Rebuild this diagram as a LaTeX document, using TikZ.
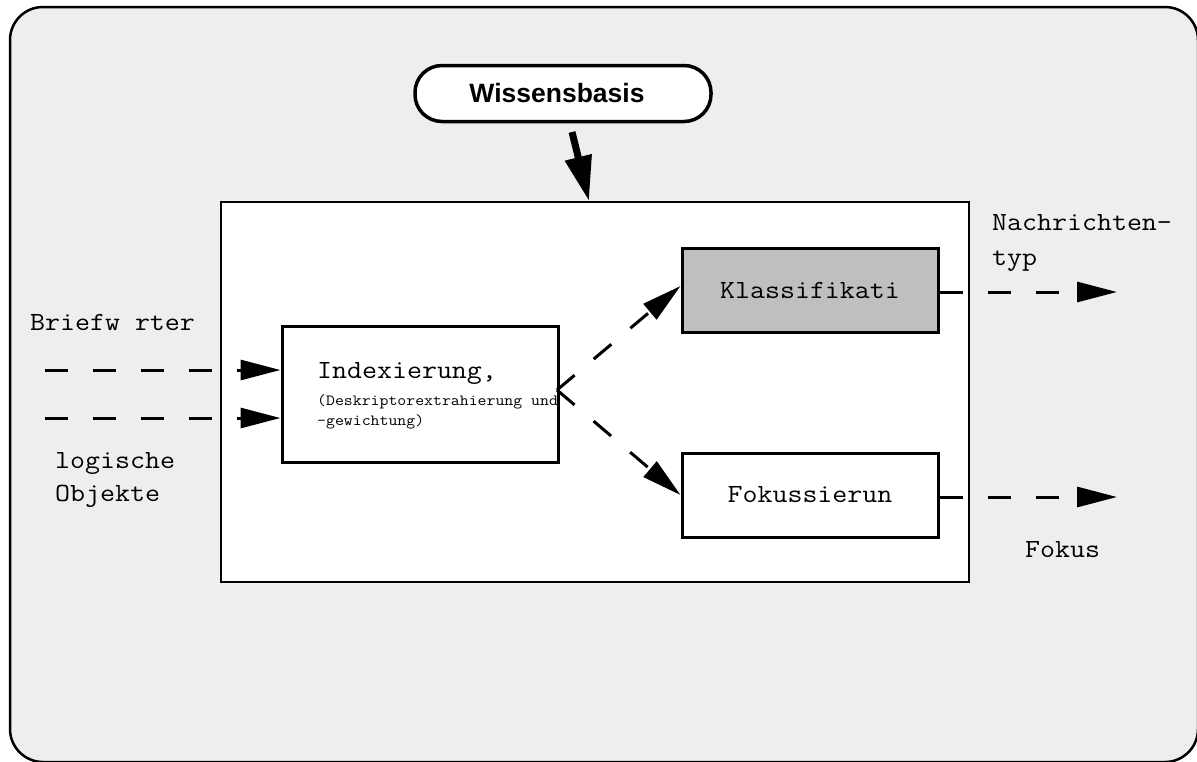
\documentclass[tikz,border=0pt]{standalone}
\usepackage{fontspec}
\newfontfamily\courfont[FakeStretch=1.11]{Latin Modern Mono}
\newfontfamily\wbfont{Liberation Sans}
\usetikzlibrary{arrows.meta}
\definecolor{bgc}{HTML}{EEEEEE}
\definecolor{klc}{HTML}{BFBFBF}
\newcommand{\bigmono}{\courfont\fontsize{26.2}{30}\selectfont}
\newcommand{\smallmono}{\courfont\fontsize{15.6}{20}\selectfont}
\tikzset{
  procbox/.style={draw, line width=3, inner sep=0, minimum width=256, minimum height=84, font=\bigmono},
  lbl/.style={anchor=base west, inner sep=0, font=\bigmono},
  flow/.style={line width=3, dash pattern=on 23pt off 25pt, -{Triangle[length=40pt,width=20pt]}},
}
\begin{document}
\begin{tikzpicture}[x=1pt,y=-1pt]
\useasboundingbox (0,0) rectangle (1197,761);
\draw[line width=2.5, fill=bgc, rounded corners=33] (10,7) rectangle (1198,762);

\node[draw, fill=white, line width=2, inner sep=0, minimum width=748, minimum height=380, anchor=north west] (mainbox) at (220,201) {};

\node[draw, fill=white, line width=3.5, rounded corners=27, inner sep=0, minimum width=296, minimum height=56, font=\wbfont\bfseries\fontsize{26.5}{30}\selectfont] (wb) at (563,93.5) {\hspace*{-12pt}Wissensbasis};

\node[draw, fill=white, line width=3, inner sep=0, minimum width=276, minimum height=136] (idx) at (420,394) {};
\node[procbox, fill=klc] (kl) at (810,290) {Klassifikati};
\node[procbox, fill=white] (fok) at (810,495) {Fokussierun};

% texts
\node[lbl] (t1) at (317,378) {Indexierung,};
\node[anchor=base west, inner sep=0, font=\smallmono] (t2) at (317,405) {(Deskriptorextrahierung und};
\node[anchor=base west, inner sep=0, font=\smallmono] (t3) at (317,425) {-gewichtung)};
\node[lbl] (brief) at (30,330) {Briefw rter};
\node[lbl] (log) at (55,468) {logische};
\node[lbl] (obj) at (55,501) {Objekte};
\node[lbl] (nach) at (992,230) {Nachrichten-};
\node[lbl] (typ) at (992,265) {typ};
\node[lbl] (fokus) at (1025,557) {Fokus};

% knowledge base arrow
\coordinate (wbs) at (572,132);
\coordinate (wbt) at (589,201);
\draw[line width=7, -{Triangle[length=45pt,width=26pt]}] (wbs) -- (wbt);

% input arrows
\coordinate (in1) at (45,370);
\coordinate (in2) at (45,418);
\draw[flow] (in1) -- (in1 -| idx.west);
\draw[flow] (in2) -- (in2 -| idx.west);

% split arrows
\coordinate (split) at (557,390);
\draw[flow] (split) -- ([yshift=4pt]kl.west);
\draw[flow] (split) -- (fok.west);

% outputs
\coordinate (o1) at (1117,292);
\coordinate (o2) at (1117,497);
\draw[flow] (kl.east |- o1) -- (o1);
\draw[flow] (fok.east |- o2) -- (o2);
\end{tikzpicture}
\end{document}
